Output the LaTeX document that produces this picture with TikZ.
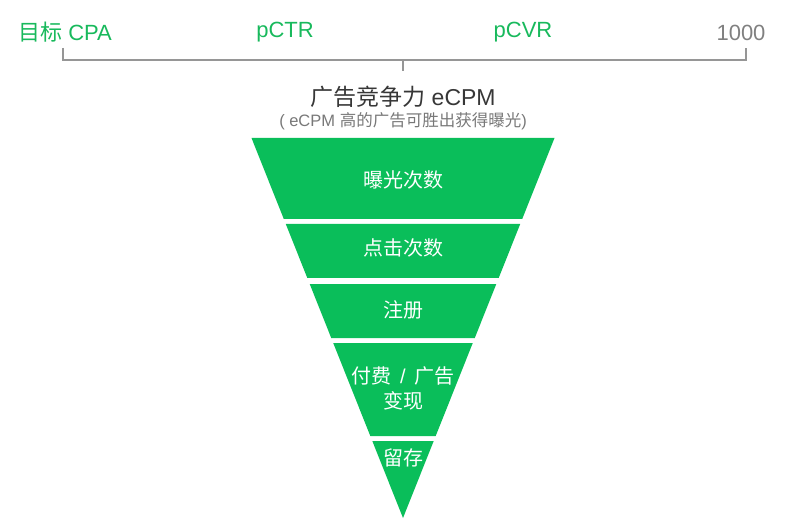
\documentclass[tikz,border=0pt]{standalone}
\usepackage{fontspec}
\setmainfont{Liberation Sans}
\newfontfamily\cjk{Noto Sans CJK SC}
\usepackage{tikz}
\usetikzlibrary{positioning}

\definecolor{funnelgreen}{RGB}{10,190,90}
\definecolor{labelgreen}{RGB}{24,185,92}
\definecolor{numgray}{RGB}{128,128,128}
\definecolor{titlegray}{RGB}{55,55,55}
\definecolor{notegray}{RGB}{120,120,120}
\definecolor{linegray}{RGB}{150,150,150}

\begin{document}
\begin{tikzpicture}[x=1pt,y=-1pt,
                    toplabel/.style={text=labelgreen,font=\fontsize{22}{26}\selectfont},
                    bandlabel/.style={text=white,font=\fontsize{20}{25}\selectfont\cjk,align=center},
                    band/.style={fill=funnelgreen},
                    bracket/.style={draw=linegray,line width=1.3pt}]

  \useasboundingbox (0,0) rectangle (800,521);

  % labels above the bracket
  \node[toplabel]                (cpa) at (65,32)  {{\cjk 目标} CPA};
  \node[toplabel]                (ctr) at (285,32) {pCTR};
  \node[toplabel]                (cvr) at (523,32) {pCVR};
  \node[toplabel,text=numgray]   (num) at (741,33) {1000};

  \coordinate (bl) at (63,48);
  \coordinate (br) at (746,48);
  \coordinate (bm) at (403,60);
  \coordinate (bt) at (403,71);
  \draw[bracket] (bl) -- (bl |- bm) -- (br |- bm) -- (br);
  \draw[bracket] (bm) -- (bt);

  \node[text=titlegray,font=\fontsize{23}{26}\selectfont] (ecpm) at (403,97) {{\cjk 广告竞争力} eCPM};
  \node[text=notegray,font=\fontsize{16.5}{20}\selectfont,inner sep=0pt] (note) at (403,121)
       {( eCPM {\cjk 高的广告可胜出获得曝光})};

  % funnel
  \foreach \ya/\yb in {138/219,224/278,284/338,343/436,441/518} {
    \pgfmathsetmacro\wa{0.39868*(518-\ya)}
    \pgfmathsetmacro\wb{0.39868*(518-\yb)}
    \fill[band] (403-\wa,\ya) -- (403+\wa,\ya) -- (403+\wb,\yb) -- (403-\wb,\yb) -- cycle;
  }

  \node[bandlabel] (show)  at (403,180)   {曝光次数};
  \node[bandlabel] (click) at (403,248)   {点击次数};
  \node[bandlabel] (reg)   at (403,310)   {注册};
  \node[bandlabel] (pay)   at (403,388.5) {付费\hspace{0.45em}{\fontspec{Liberation Sans}/}\hspace{0.45em}广告\\变现};
  \node[bandlabel] (keep)  at (403,458)   {留存};
\end{tikzpicture}
\end{document}
